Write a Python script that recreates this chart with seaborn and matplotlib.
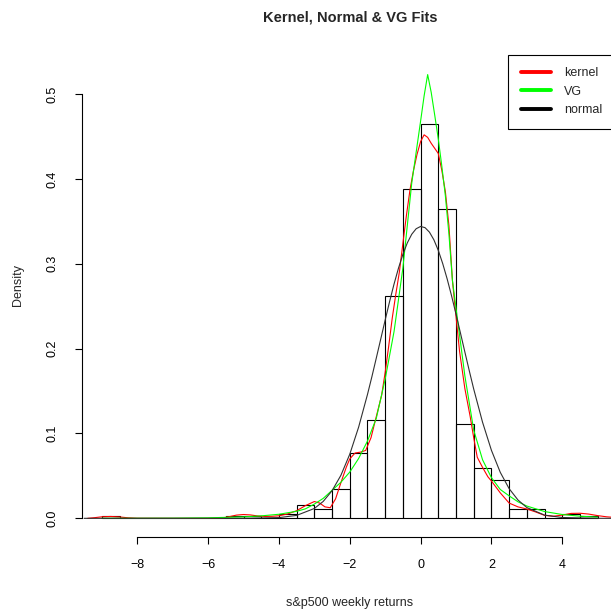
import matplotlib
matplotlib.use("Agg")
import matplotlib.pyplot as plt
from matplotlib.lines import Line2D
import seaborn as sns

# histogram: bin edges every 0.5 from -9 to 5, density heights
bin_edges = [-9 + 0.5 * i for i in range(29)]
bin_heights = [0.0023, 0, 0, 0, 0, 0, 0,          # -9 .. -5.5
               0.0023, 0.0023, 0, 0.0046,          # -5.5 .. -3.5
               0.0160, 0.0114, 0.0342, 0.0775,     # -3.5 .. -1.5
               0.1163, 0.2623, 0.3877,             # -1.5 .. 0
               0.4652, 0.3649, 0.1117, 0.0593,     # 0 .. 2
               0.0456, 0.0114, 0.0114, 0,          # 2 .. 4
               0.0046, 0.0023]                     # 4 .. 5
bin_centers = [e + 0.25 for e in bin_edges[:-1]]

# kernel density (red)
kern_x = [-9.4, -9.2, -9.0, -8.75, -8.5, -8.25, -8.0, -7.0, -6.0, -5.6, -5.4,
          -5.2, -5.0, -4.8, -4.6, -4.4, -4.2, -4.0, -3.75, -3.5, -3.25, -3.0,
          -2.85, -2.7, -2.55, -2.4, -2.25, -2.1, -2.0, -1.85, -1.7, -1.55,
          -1.4, -1.25, -1.1, -1.0, -0.9, -0.8, -0.7, -0.6, -0.5, -0.4, -0.3,
          -0.2, -0.1, 0.0, 0.1, 0.2, 0.3, 0.4, 0.5, 0.6, 0.7, 0.8, 0.9, 1.0,
          1.1, 1.25, 1.4, 1.5, 1.6, 1.75, 1.9, 2.0, 2.25, 2.5, 2.75, 3.0,
          3.25, 3.5, 3.75, 4.0, 4.25, 4.5, 4.75, 5.0, 5.25, 5.5, 5.75]
kern_y = [0.0, 0.0008, 0.0018, 0.0022, 0.0016, 0.0006, 0.0001, 0.0, 0.0,
          0.0004, 0.0020, 0.0038, 0.0045, 0.0040, 0.0028, 0.0022, 0.0024,
          0.0030, 0.0052, 0.0090, 0.0150, 0.0198, 0.0180, 0.0135, 0.0125,
          0.0230, 0.0420, 0.0600, 0.0700, 0.0770, 0.0780, 0.0800, 0.0950,
          0.1200, 0.1450, 0.1720, 0.2030, 0.2360, 0.2640, 0.2900, 0.3240,
          0.3570, 0.3870, 0.4100, 0.4290, 0.4440, 0.4520, 0.4490, 0.4420,
          0.4360, 0.4300, 0.4100, 0.3850, 0.3450, 0.2800, 0.2380, 0.1970,
          0.1530, 0.1200, 0.0950, 0.0720, 0.0600, 0.0490, 0.0440, 0.0300,
          0.0180, 0.0135, 0.0110, 0.0075, 0.0035, 0.0025, 0.0038, 0.0058,
          0.0060, 0.0050, 0.0032, 0.0018, 0.0010, 0.0004]

# variance gamma fit (green)
vg_x = [-9.0, -8.0, -7.0, -6.0, -5.0, -4.5, -4.0, -3.5, -3.25, -3.0, -2.75,
        -2.5, -2.25, -2.0, -1.75, -1.5, -1.25, -1.0, -0.75, -0.5, -0.25, 0.0,
        0.1, 0.2, 0.3, 0.4, 0.5, 0.6, 0.7, 0.8, 0.9, 1.0, 1.25, 1.5, 1.75,
        2.0, 2.25, 2.5, 2.75, 3.0, 3.5, 4.0, 4.5, 5.0]
vg_y = [0.00003, 0.00008, 0.0002, 0.0006, 0.0017, 0.0029, 0.0048, 0.0083,
        0.0112, 0.0168, 0.0235, 0.0330, 0.0425, 0.0545, 0.0705, 0.0910,
        0.1180, 0.1640, 0.2200, 0.2950, 0.3950, 0.4680, 0.4980, 0.5230,
        0.5020, 0.4750, 0.4470, 0.4150, 0.3800, 0.3350, 0.2800, 0.2480,
        0.1680, 0.1040, 0.0690, 0.0480, 0.0340, 0.0265, 0.0195, 0.0145,
        0.0080, 0.0045, 0.0025, 0.0014]

# normal fit (black)
norm_x = [-9.5, -5.0, -4.0, -3.5, -3.0, -2.75, -2.5, -2.25, -2.0, -1.75,
          -1.5, -1.375, -1.25, -1.125, -1.0, -0.875, -0.75, -0.625, -0.5,
          -0.375, -0.25, -0.125, 0.0, 0.125, 0.25, 0.375, 0.5, 0.625, 0.75,
          0.875, 1.0, 1.125, 1.25, 1.375, 1.5, 1.75, 2.0, 2.25, 2.5, 2.75,
          3.0, 3.5, 4.0, 5.0, 5.5]
norm_y = [0.0, 0.00003, 0.00085, 0.00345, 0.0116, 0.0199, 0.0325, 0.0507,
          0.0755, 0.1074, 0.1459, 0.1669, 0.1890, 0.2113, 0.2337, 0.2555,
          0.2760, 0.2947, 0.3111, 0.3246, 0.3348, 0.3413, 0.3440, 0.3426,
          0.3373, 0.3283, 0.3158, 0.3002, 0.2822, 0.2622, 0.2407, 0.2185,
          0.1961, 0.1739, 0.1524, 0.1132, 0.0802, 0.0542, 0.0350, 0.0216,
          0.0127, 0.0038, 0.00096, 0.00003, 0.0]

sns.set_style("ticks")
plt.rcParams['font.family'] = ['Liberation Sans', 'DejaVu Sans']

fig = plt.figure(figsize=(6.11, 6.16), dpi=100)
ax = fig.add_axes([82 / 611, 79 / 616, 535.5 / 611, 504 / 616])

sns.histplot(x=bin_centers, weights=bin_heights, bins=bin_edges, stat="count",
             fill=False, color="black", linewidth=0.8, ax=ax)
sns.lineplot(x=kern_x, y=kern_y, color="#FF0000", linewidth=0.8, ax=ax)
sns.lineplot(x=vg_x, y=vg_y, color="#00FF00", linewidth=0.8, ax=ax)
sns.lineplot(x=norm_x, y=norm_y, color="#303030", linewidth=0.8, ax=ax)

ax.set_xlim(-9.56, 5.56)
ax.set_ylim(-0.022, 0.572)
ax.set_xticks([-8, -6, -4, -2, 0, 2, 4])
ax.set_xticklabels(["\u22128", "\u22126", "\u22124", "\u22122", "0", "2", "4"])
ax.set_yticks([0.0, 0.1, 0.2, 0.3, 0.4, 0.5])
ax.set_yticklabels(["0.0", "0.1", "0.2", "0.3", "0.4", "0.5"],
                   rotation=90, va="center")
ax.set_xlabel("")
ax.set_ylabel("")
sns.despine(ax=ax)
ax.spines['bottom'].set_bounds(-8, 4)
ax.spines['left'].set_bounds(0, 0.5)
for s in ['bottom', 'left']:
    ax.spines[s].set_linewidth(0.8)
    ax.spines[s].set_color("black")
ax.tick_params(axis='x', length=5, width=0.8, pad=11, labelsize=9,
               colors="black")
ax.tick_params(axis='y', length=5, width=0.8, pad=12, labelsize=9,
               colors="black")

fig.text(350 / 611, 1 - 18 / 616, "Kernel, Normal & VG Fits",
         ha="center", va="center", fontsize=10.5, fontweight="bold")
fig.text(350 / 611, 1 - 603 / 616, "s&p500 weekly returns",
         ha="center", va="center", fontsize=9)
fig.text(18 / 611, 1 - 285 / 616, "Density", ha="center", va="center",
         rotation=90, fontsize=9)

handles = [Line2D([], [], color="#FF0000", lw=2.8),
           Line2D([], [], color="#00FF00", lw=2.8),
           Line2D([], [], color="black", lw=2.8)]
leg = fig.legend(handles, ["kernel", "VG", "normal"], loc="upper left",
                 bbox_to_anchor=(508 / 611, 1 - 55 / 616), fontsize=9,
                 frameon=True, fancybox=False, framealpha=1,
                 edgecolor="black", borderpad=1.0, labelspacing=0.5,
                 handlelength=2.4, handletextpad=1.1, borderaxespad=0)
leg.get_frame().set_linewidth(0.8)

fig.savefig("out.png", dpi=100)
